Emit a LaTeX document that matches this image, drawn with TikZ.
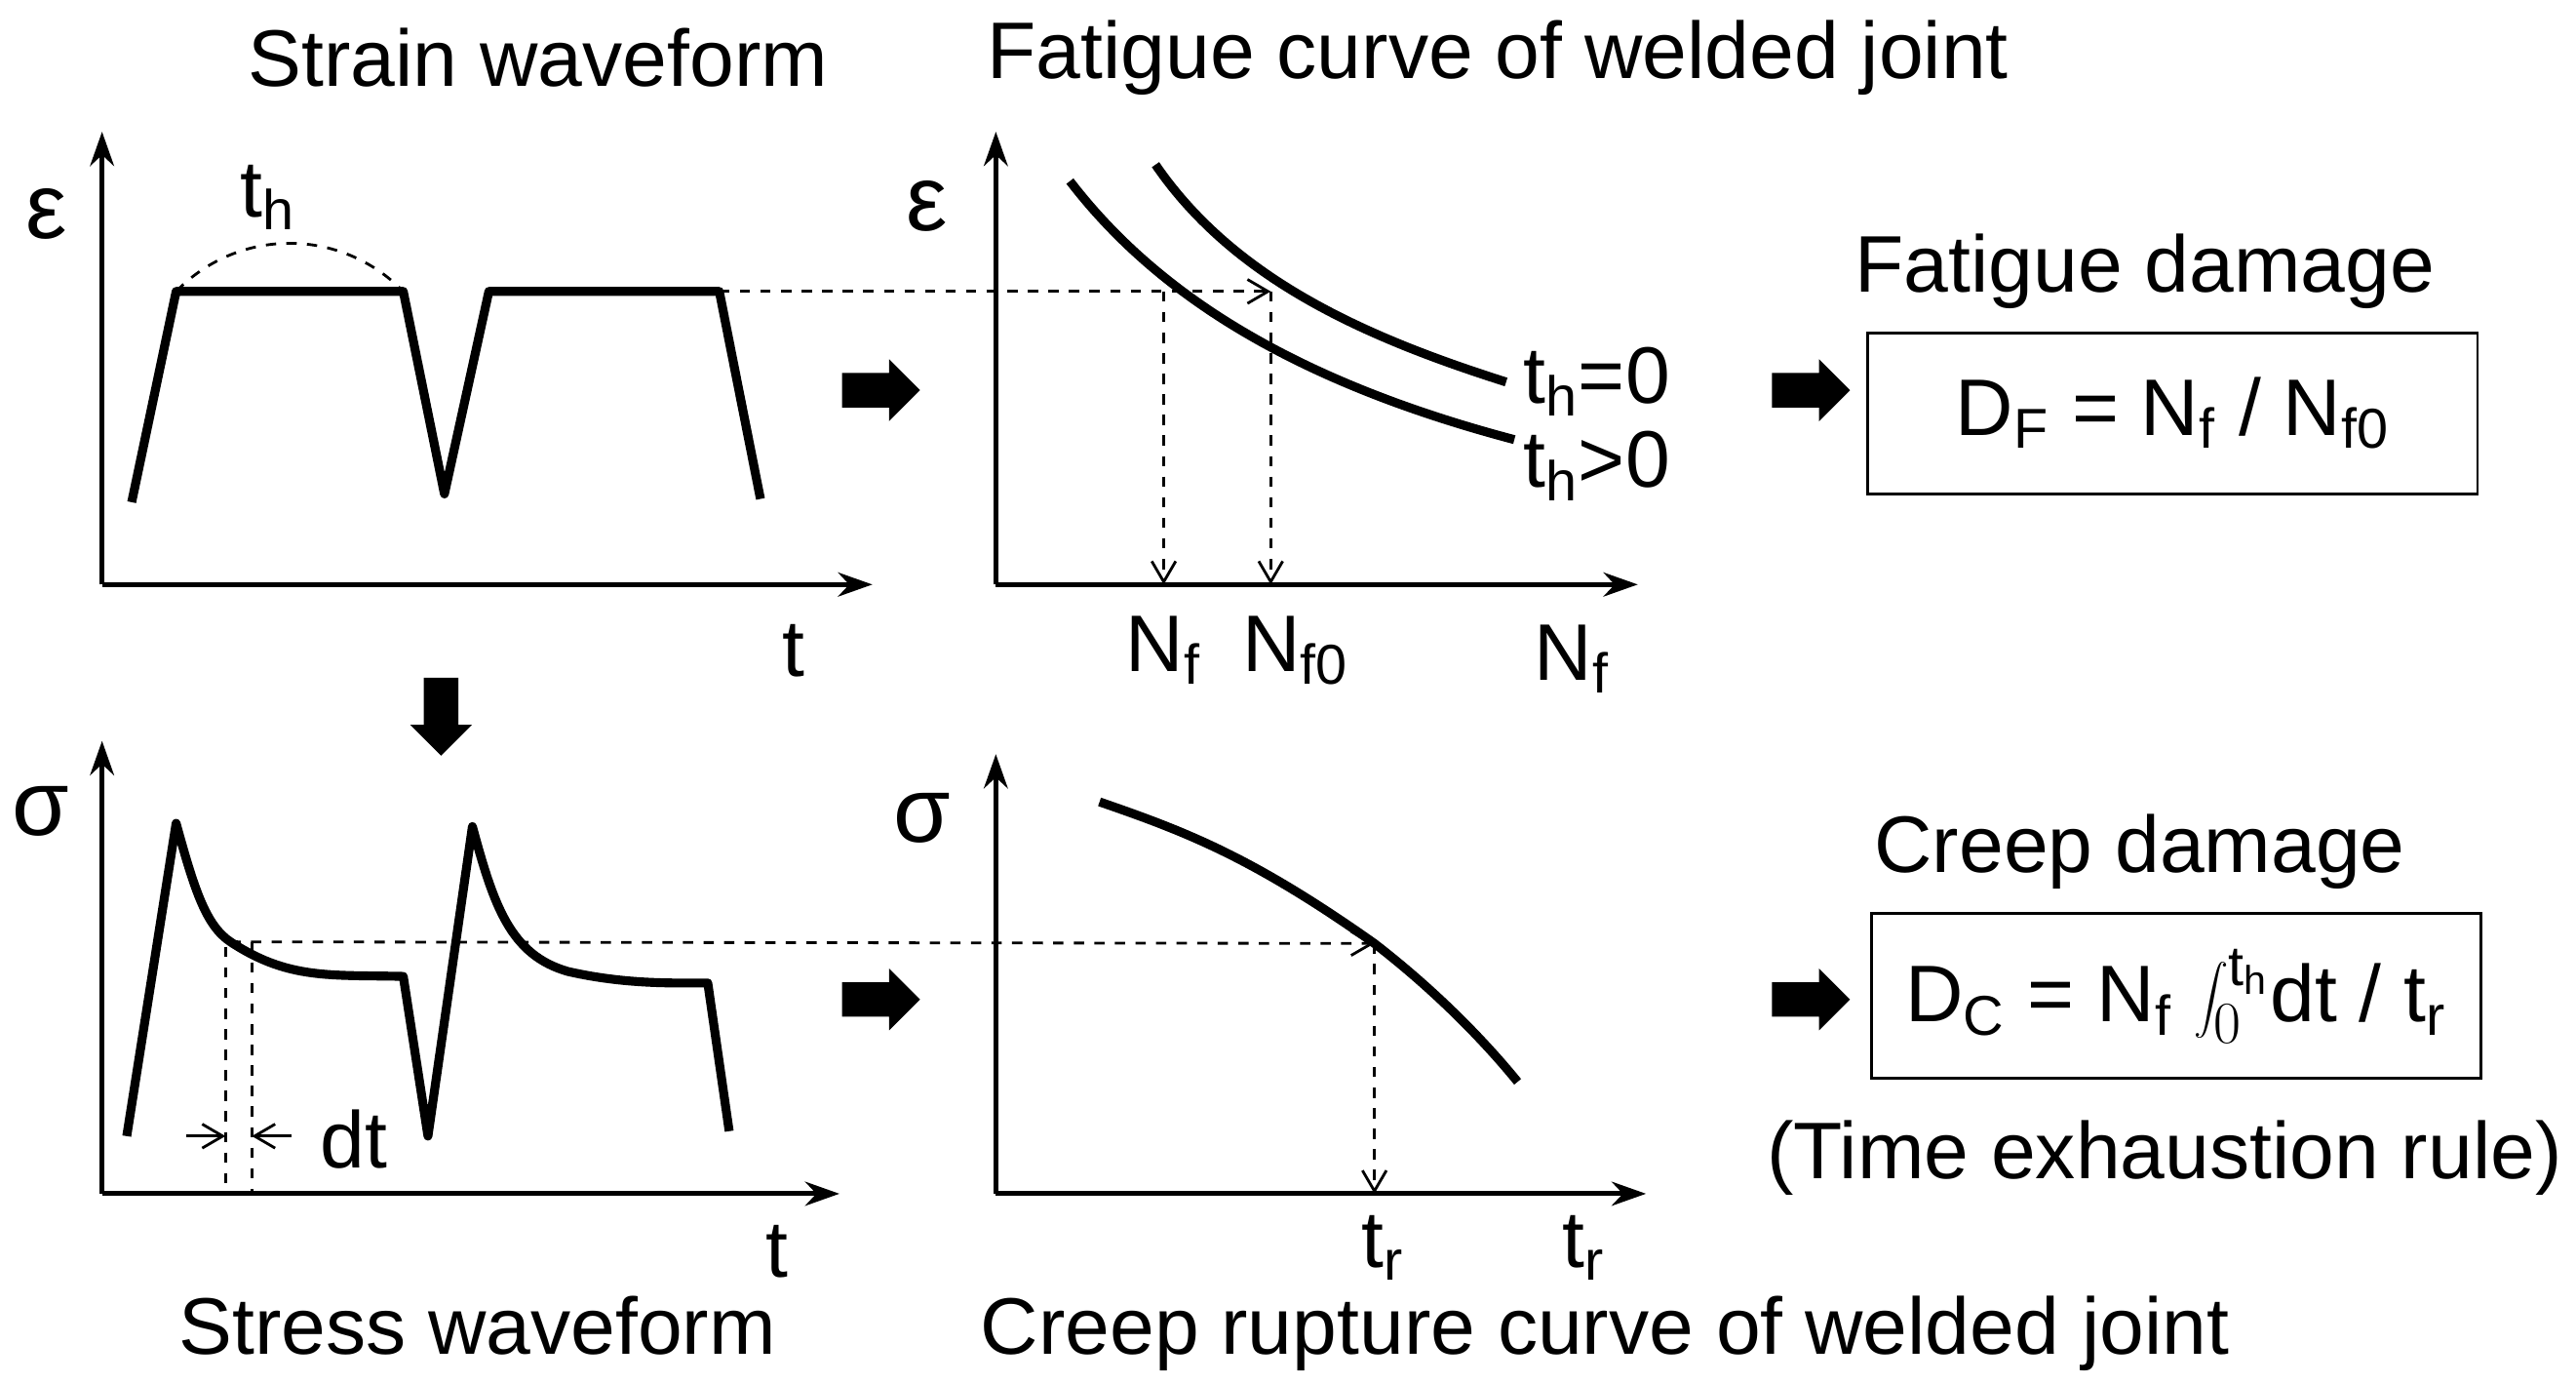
\documentclass[tikz,border=0pt]{standalone}
\usepackage{fontspec}
\setmainfont{Liberation Sans}
\usetikzlibrary{arrows.meta,positioning,shapes.arrows}
\begin{document}
\begin{tikzpicture}[x=0.01688cm,y=-0.01688cm,font=\fontsize{23.4}{27}\selectfont]
        \tikzset{axis/.style={line width=1.4pt, -{Stealth[length=10pt,width=7pt]}}}
        \tikzset{curve/.style={line width=2.6pt, line join=round}}
        \tikzset{guide/.style={dashed, line width=0.8pt, -{Straight Barb[length=6pt,width=7pt]}}}
        \tikzset{block/.style={single arrow, fill=black, minimum height=0.8cm, inner sep=0.17cm, single arrow head extend=0.14cm}}
        \tikzset{box/.style={draw, line width=0.8pt}}
        \useasboundingbox (0,0) rectangle (1565,840);

        % strain waveform
        \coordinate (o1) at (62,355);
        \draw [axis] (o1) -- (62,80);
        \draw [axis] (o1) -- (530,355);
        \node (eps1) at (28,130) {\fontsize{27}{30}\selectfont ε};
        \node (t1) at (482,395) {t};
        \node (title1) at (327,35) {Strain waveform};
        \coordinate (a1) at (107,177);
        \coordinate (a2) at (245,177);
        \coordinate (a3) at (297,177);
        \coordinate (a4) at (437,177);
        \draw [curve] (80,305) -- (a1) -- (a2) -- (270,300) -- (a3) -- (a4) -- (462,303);
        \draw [dashed, line width=0.8pt] (a1) .. controls (145,138) and (207,138) .. (a2);
        \node (th) at (163,120) {t$_{\mathrm h}$};

        % fatigue curve
        \coordinate (o2) at (605,355);
        \draw [axis] (o2) -- (605,80);
        \draw [axis] (o2) -- (995,355);
        \node (eps2) at (563,125) {\fontsize{27}{30}\selectfont ε};
        \node (title2) at (910,35) {Fatigue curve of welded joint};
        \draw [curve] (650,110) .. controls (700,175) and (780,230) .. (920,267);
        \draw [curve] (702,100) .. controls (750,170) and (830,205) .. (915,232);
        \node (th0) at (970,232) {t\textsubscript{h}=0};
        \node (thp) at (970,283) {t\textsubscript{h}>0};
        \coordinate (f1) at (707,177);
        \coordinate (f2) at (772,177);
        \draw [guide] (a4) -- (f2);
        \node (nf) at (707,395) {N\textsubscript{f}};
        \node (nf0) at (787,395) {N\textsubscript{f0}};
        \node (nfa) at (955,400) {N\textsubscript{f}};
        \draw [guide] (f1) -- (707,355);
        \draw [guide] (f2) -- (772,355);

        % stress waveform
        \coordinate (o3) at (62,725);
        \draw [axis] (o3) -- (62,450);
        \draw [axis] (o3) -- (510,725);
        \node (sig1) at (25,493) {\fontsize{27}{30}\selectfont σ};
        \node (t3) at (472,760) {t};
        \node (title3) at (290,805) {Stress waveform};
        \coordinate (s1) at (140,572);
        \draw [curve] (77,690) -- (107,500) .. controls (118,540) and (125,562) .. (s1)
              .. controls (175,595) and (200,592) .. (245,593) -- (260,690) -- (287,502)
              .. controls (300,550) and (310,580) .. (345,590)
              .. controls (380,598) and (410,597) .. (430,597) -- (443,687);
        \draw [dashed, line width=0.8pt] (137,575) -- (137,725);
        \draw [dashed, line width=0.8pt] (153,572) -- (153,725);
        \draw [-{Straight Barb[length=6pt,width=7pt]}, line width=0.8pt] (113,690) -- (137,690);
        \draw [-{Straight Barb[length=6pt,width=7pt]}, line width=0.8pt] (177,690) -- (153,690);
        \node (dt) at (215,692) {dt};

        % creep rupture curve
        \coordinate (o4) at (605,725);
        \draw [axis] (o4) -- (605,458);
        \draw [axis] (o4) -- (1000,725);
        \node (sig2) at (560,497) {\fontsize{27}{30}\selectfont σ};
        \node (title4) at (975,810) {Creep rupture curve of welded joint};
        \coordinate (c1) at (835,573);
        \draw [curve] (668,487) .. controls (720,505) and (760,520) .. (c1) .. controls (870,600) and (900,630) .. (922,657);
        \draw [guide] (s1) -- (c1);
        \draw [guide] (c1) -- (835,725);
        \node [inner sep=1pt] (tr) at (840,758) {t\textsubscript{r}};
        \node [inner sep=1pt] (tra) at (962,758) {t\textsubscript{r}};

        % block arrows
        \node [block] (b1) at (530,237) {};
        \node [block] (b2) at (1095,237) {};
        \node [block, rotate=-90] (b3) at (268,430) {};
        \node [block] (b4) at (530,607) {};
        \node [block] (b5) at (1095,607) {};

        % damage boxes
        \node (fd) at (1303,165) {Fatigue damage};
        \node [box, minimum width=6.25cm, minimum height=1.65cm] (fbox) at (1320,251) {D\textsubscript{F} = N\textsubscript{f} / N\textsubscript{f0}};
        \node (cd) at (1300,517) {Creep damage};
        \node [box, minimum width=6.25cm, minimum height=1.69cm] (cbox) at (1322,605) {D\textsubscript{C} = N\textsubscript{f} $\displaystyle\int_0^{\mathrm{t}_{\mathrm h}}$dt / t\textsubscript{r}};
        \node (rule) at (1315,703) {(Time exhaustion rule)};
    \end{tikzpicture}
\end{document}
